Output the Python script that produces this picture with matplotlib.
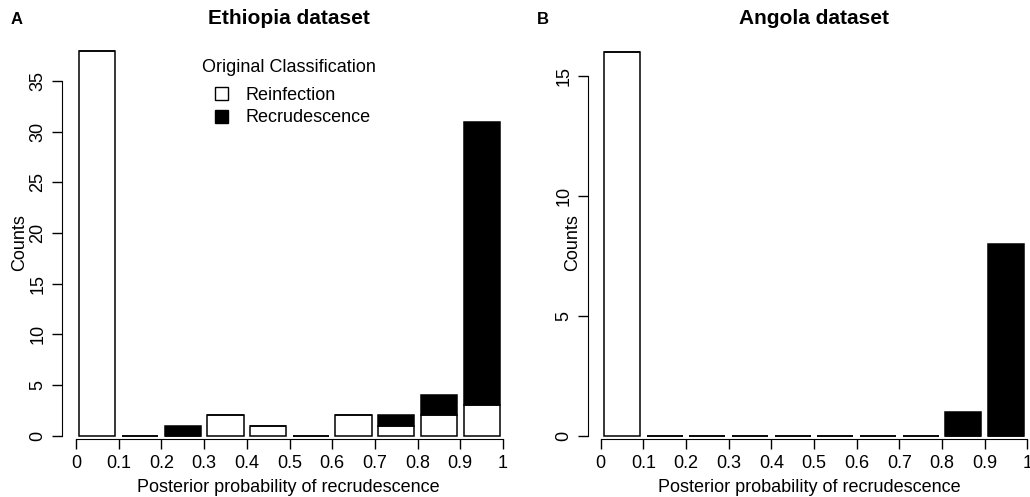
import matplotlib.pyplot as plt
from matplotlib.patches import Patch

plt.rcParams['font.family'] = ['Liberation Sans', 'DejaVu Sans']

# bins of posterior probability (left edges), counts per original classification
bins = [0.0, 0.1, 0.2, 0.3, 0.4, 0.5, 0.6, 0.7, 0.8, 0.9]
tick_labels = ['0', '0.1', '0.2', '0.3', '0.4', '0.5', '0.6', '0.7', '0.8', '0.9', '1']

eth_reinf = [38, 0, 0, 2, 1, 0, 2, 1, 2, 3]
eth_recru = [0, 0, 1, 0, 0, 0, 0, 1, 2, 28]

ang_reinf = [16, 0, 0, 0, 0, 0, 0, 0, 0, 0]
ang_recru = [0, 0, 0, 0, 0, 0, 0, 0, 1, 8]

W, H = 1030, 497
FS = 13
fig = plt.figure(figsize=(W / 100, H / 100), dpi=100, facecolor='white')


def px_axes(left, right, top, bottom):
    return fig.add_axes([left / W, 1 - bottom / H, (right - left) / W, (bottom - top) / H])


def draw_panel(ax, reinf, recru, yticks, title, letter, lx, tx, cx, cy):
    centers = [b + 0.05 for b in bins]
    ax.bar(centers, reinf, width=0.085, color='white', edgecolor='black', linewidth=1.1)
    ax.bar(centers, recru, width=0.085, bottom=reinf, color='black', edgecolor='black', linewidth=1.1)
    for s in ['top', 'right']:
        ax.spines[s].set_visible(False)
    ax.spines['left'].set_bounds(yticks[0], yticks[-1])
    ax.spines['bottom'].set_bounds(0, 1)
    ax.set_xticks([i / 10 for i in range(11)])
    ax.set_xticklabels(tick_labels, fontsize=FS)
    ax.set_yticks(yticks)
    ax.set_yticklabels([str(t) for t in yticks], fontsize=FS)
    for lab in ax.get_yticklabels():
        lab.set_rotation(90)
        lab.set_va('center')
    ax.tick_params(direction='out', length=7.2, width=1.0, pad=4)
    ax.set_xlabel('Posterior probability of recrudescence', fontsize=FS, labelpad=5)
    fig.text(cx / W, 1 - cy / H, 'Counts', rotation=90, fontsize=FS, ha='center', va='center')
    fig.text(tx / W, 1 - 19 / H, title, fontsize=15, fontweight='bold', ha='center', va='center')
    fig.text(lx / W, 1 - 19 / H, letter, fontsize=12, fontweight='bold', ha='left', va='center')


# panel A: x 0 -> 76px, 1 -> 503px ; y 0 -> 435.7px, 35 -> 81px
axA = px_axes(62, 515, 30, 439)
axA.set_xlim(-14 / 427, 1 + 12 / 427)
axA.set_ylim(-3.3 / 10.134, 405.7 / 10.134)
draw_panel(axA, eth_reinf, eth_recru, list(range(0, 36, 5)), 'Ethiopia dataset', 'A', 11, 289, 20, 243)

# legend: title as its own text, entries below
fig.text(289 / W, 1 - 68 / H, 'Original Classification', fontsize=FS, ha='center', va='center')
handles = [Patch(facecolor='white', edgecolor='black', linewidth=1.0),
           Patch(facecolor='black', edgecolor='black', linewidth=1.0)]
axA.legend(handles, ['Reinfection', 'Recrudescence'],
           loc='upper left', bbox_to_anchor=(215 / W, 1 - 87 / H), bbox_transform=fig.transFigure,
           frameon=False, fontsize=FS, handlelength=0.72, handleheight=0.72,
           handletextpad=0.95, labelspacing=0.3, borderpad=0, borderaxespad=0)

# panel B: x 0 -> 600.7px, 1 -> 1027.3px ; y 0 -> 435.7px, 15 -> 76px
axB = px_axes(587.7, 1030, 30, 439)
axB.set_xlim(-13 / 426.6, 1 + 2.7 / 426.6)
axB.set_ylim(-3.3 / 23.98, 405.7 / 23.98)
draw_panel(axB, ang_reinf, ang_recru, [0, 5, 10, 15], 'Angola dataset', 'B', 537, 814, 573, 243)

fig.savefig('out.png', dpi=100, facecolor='white')
